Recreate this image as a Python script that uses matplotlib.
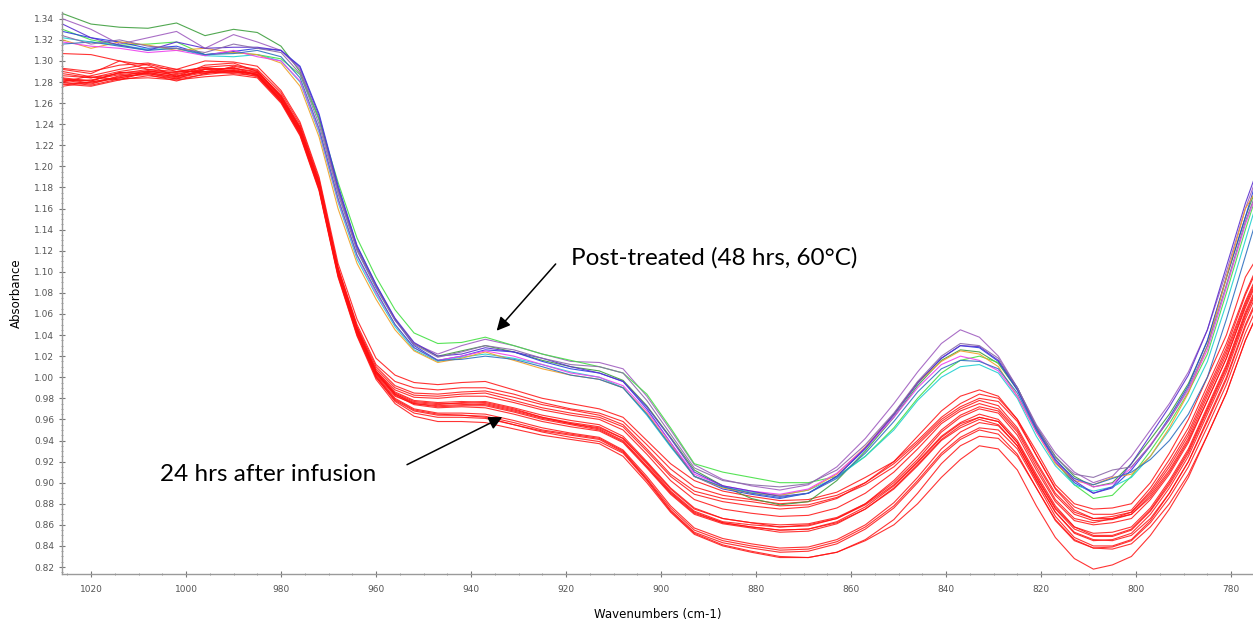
import matplotlib
matplotlib.use("Agg")
import matplotlib.pyplot as plt
from matplotlib.ticker import MultipleLocator, FormatStrFormatter

# Wavenumber grid (cm-1)
wavenumbers = [1026, 1020, 1014, 1008, 1002, 996, 990, 985, 980, 976, 972, 968, 964, 960, 956, 952,
               947, 942, 937, 931, 925, 919, 913, 908, 903, 898, 893, 887, 881, 875, 869, 863, 857,
               851, 846, 841, 837, 833, 829, 825, 821, 817, 813, 809, 805, 801, 797, 793, 789, 785,
               781, 777, 775]

# Post-treated (48 hrs, 60°C) spectra
post_dark_green = [1.345,1.335,1.332,1.331,1.336,1.324,1.330,1.327,1.314,1.290,1.245,1.178,1.122,1.086,1.055,1.032,1.020,1.025,1.030,1.024,1.016,1.010,1.006,0.997,0.973,0.943,0.912,0.897,0.885,0.879,0.882,0.902,0.930,0.962,0.992,1.016,1.026,1.024,1.013,0.988,0.953,0.925,0.906,0.896,0.900,0.918,0.941,0.965,0.994,1.034,1.094,1.152,1.176]
post_purple = [1.340,1.330,1.316,1.322,1.328,1.312,1.325,1.318,1.310,1.292,1.244,1.176,1.121,1.085,1.054,1.032,1.022,1.030,1.036,1.030,1.022,1.015,1.014,1.008,0.982,0.950,0.917,0.903,0.897,0.893,0.898,0.915,0.942,0.975,1.005,1.032,1.045,1.038,1.020,0.990,0.955,0.928,0.910,0.900,0.906,0.925,0.950,0.975,1.005,1.045,1.100,1.160,1.185]
post_light_green = [1.330,1.320,1.315,1.316,1.318,1.306,1.308,1.306,1.302,1.287,1.245,1.185,1.132,1.095,1.064,1.042,1.032,1.033,1.038,1.030,1.022,1.016,1.010,1.004,0.984,0.952,0.918,0.910,0.905,0.900,0.900,0.906,0.925,0.952,0.980,1.004,1.016,1.020,1.014,0.990,0.952,0.920,0.898,0.885,0.888,0.906,0.930,0.956,0.986,1.022,1.080,1.140,1.168]
post_blue = [1.328,1.322,1.318,1.312,1.314,1.306,1.309,1.312,1.310,1.295,1.250,1.182,1.125,1.088,1.055,1.030,1.016,1.020,1.026,1.024,1.015,1.008,1.004,0.996,0.970,0.938,0.906,0.894,0.889,0.885,0.890,0.906,0.932,0.964,0.994,1.018,1.030,1.028,1.015,0.988,0.950,0.920,0.900,0.890,0.895,0.912,0.935,0.962,0.992,1.035,1.095,1.152,1.182]
post_cyan = [1.322,1.318,1.315,1.311,1.312,1.305,1.304,1.306,1.300,1.280,1.232,1.166,1.112,1.078,1.048,1.026,1.015,1.019,1.022,1.018,1.012,1.005,1.000,0.990,0.964,0.934,0.906,0.896,0.891,0.888,0.893,0.905,0.925,0.950,0.978,1.000,1.010,1.012,1.004,0.980,0.944,0.916,0.898,0.892,0.896,0.905,0.925,0.950,0.978,1.015,1.070,1.130,1.160]
post_orange = [1.320,1.312,1.318,1.315,1.310,1.312,1.308,1.306,1.298,1.276,1.228,1.160,1.108,1.074,1.045,1.025,1.014,1.018,1.024,1.016,1.008,1.002,0.998,0.990,0.966,0.936,0.906,0.895,0.890,0.888,0.893,0.908,0.934,0.965,0.995,1.015,1.025,1.022,1.010,0.982,0.948,0.918,0.902,0.898,0.905,0.908,0.925,0.952,0.985,1.030,1.095,1.160,1.175]
post_magenta = [1.318,1.314,1.312,1.308,1.310,1.305,1.310,1.304,1.300,1.281,1.234,1.168,1.115,1.080,1.050,1.028,1.016,1.020,1.025,1.020,1.012,1.004,1.000,0.992,0.968,0.938,0.908,0.897,0.892,0.889,0.894,0.909,0.933,0.962,0.990,1.012,1.020,1.016,1.006,0.982,0.948,0.920,0.904,0.896,0.899,0.914,0.936,0.960,0.988,1.026,1.085,1.145,1.170]
post_indigo = [1.335,1.322,1.315,1.310,1.318,1.312,1.313,1.313,1.310,1.294,1.248,1.180,1.124,1.088,1.056,1.033,1.020,1.022,1.028,1.024,1.018,1.010,1.004,0.996,0.972,0.942,0.910,0.897,0.892,0.887,0.890,0.906,0.933,0.965,0.995,1.018,1.030,1.029,1.016,0.990,0.952,0.922,0.902,0.890,0.896,0.918,0.945,0.972,1.002,1.045,1.105,1.165,1.190]
post_steel = [1.316,1.318,1.314,1.310,1.312,1.306,1.307,1.310,1.304,1.284,1.236,1.170,1.116,1.082,1.050,1.028,1.016,1.017,1.020,1.017,1.010,1.002,0.998,0.990,0.965,0.935,0.906,0.896,0.890,0.886,0.890,0.904,0.928,0.958,0.986,1.008,1.016,1.015,1.008,0.985,0.950,0.922,0.904,0.898,0.904,0.910,0.922,0.940,0.965,1.000,1.055,1.115,1.145]
post_mauve = [1.324,1.316,1.320,1.314,1.312,1.308,1.316,1.312,1.308,1.288,1.240,1.174,1.120,1.085,1.054,1.031,1.019,1.024,1.030,1.026,1.018,1.012,1.010,1.004,0.978,0.946,0.914,0.902,0.898,0.896,0.899,0.912,0.936,0.966,0.996,1.020,1.032,1.030,1.018,0.990,0.954,0.924,0.908,0.905,0.912,0.915,0.935,0.960,0.990,1.030,1.088,1.148,1.172]

post_series = [post_dark_green, post_purple, post_light_green, post_blue, post_cyan,
               post_orange, post_magenta, post_indigo, post_steel, post_mauve]
post_colors = ["#3f9f3f", "#a05fc0", "#44e044", "#2a3fe0", "#20d0d0",
               "#f0a028", "#ee40ee", "#5a2fd0", "#3070c0", "#8a6aa8"]

# 24 hrs after infusion spectra
inf_01 = [1.293,1.290,1.296,1.298,1.292,1.300,1.299,1.295,1.272,1.242,1.190,1.108,1.055,1.018,1.002,0.995,0.993,0.995,0.996,0.988,0.980,0.975,0.970,0.962,0.940,0.918,0.902,0.892,0.887,0.883,0.884,0.891,0.905,0.920,0.940,0.962,0.975,0.984,0.980,0.960,0.930,0.898,0.880,0.875,0.876,0.880,0.900,0.928,0.960,1.000,1.040,1.095,1.110]
inf_02 = [1.292,1.288,1.300,1.296,1.285,1.296,1.298,1.290,1.268,1.238,1.186,1.104,1.050,1.012,0.996,0.990,0.988,0.990,0.990,0.984,0.976,0.970,0.966,0.958,0.936,0.913,0.896,0.888,0.884,0.880,0.882,0.888,0.900,0.918,0.938,0.960,0.972,0.980,0.977,0.958,0.926,0.895,0.877,0.870,0.870,0.874,0.895,0.922,0.952,0.992,1.032,1.080,1.100]
inf_03 = [1.280,1.286,1.292,1.297,1.290,1.294,1.296,1.292,1.270,1.240,1.188,1.104,1.048,1.010,0.992,0.985,0.984,0.986,0.987,0.981,0.974,0.969,0.964,0.955,0.932,0.908,0.892,0.885,0.882,0.878,0.879,0.886,0.898,0.915,0.936,0.958,0.970,0.978,0.973,0.952,0.920,0.890,0.872,0.866,0.868,0.872,0.890,0.915,0.945,0.985,1.025,1.072,1.092]
inf_04 = [1.288,1.284,1.290,1.294,1.292,1.288,1.295,1.291,1.266,1.236,1.184,1.102,1.047,1.008,0.990,0.983,0.982,0.984,0.985,0.978,0.971,0.966,0.962,0.953,0.930,0.906,0.889,0.882,0.878,0.875,0.877,0.885,0.900,0.920,0.944,0.968,0.982,0.988,0.982,0.960,0.926,0.894,0.874,0.866,0.866,0.870,0.888,0.912,0.942,0.982,1.022,1.070,1.090]
inf_05 = [1.307,1.306,1.300,1.292,1.288,1.292,1.293,1.289,1.267,1.237,1.185,1.102,1.046,1.006,0.988,0.981,0.980,0.982,0.982,0.976,0.969,0.964,0.960,0.950,0.927,0.902,0.884,0.875,0.871,0.868,0.869,0.876,0.890,0.910,0.932,0.956,0.968,0.975,0.970,0.950,0.918,0.888,0.870,0.864,0.865,0.870,0.886,0.910,0.940,0.978,1.018,1.066,1.086]
inf_06 = [1.284,1.281,1.289,1.288,1.283,1.292,1.290,1.287,1.264,1.234,1.182,1.099,1.044,1.004,0.984,0.976,0.974,0.976,0.977,0.971,0.964,0.959,0.955,0.944,0.920,0.895,0.876,0.866,0.862,0.860,0.861,0.867,0.880,0.900,0.922,0.948,0.962,0.970,0.966,0.945,0.912,0.882,0.864,0.860,0.862,0.866,0.884,0.908,0.938,0.978,1.018,1.068,1.088]
inf_07 = [1.278,1.280,1.285,1.291,1.286,1.290,1.294,1.286,1.262,1.232,1.180,1.098,1.043,1.003,0.982,0.975,0.973,0.974,0.975,0.969,0.962,0.957,0.953,0.942,0.918,0.892,0.873,0.863,0.860,0.858,0.860,0.866,0.879,0.898,0.920,0.944,0.957,0.965,0.960,0.940,0.908,0.878,0.858,0.850,0.850,0.856,0.874,0.900,0.930,0.970,1.010,1.060,1.080]
inf_08 = [1.290,1.285,1.282,1.290,1.289,1.294,1.290,1.289,1.266,1.236,1.184,1.101,1.046,1.006,0.986,0.978,0.976,0.977,0.976,0.970,0.962,0.956,0.951,0.940,0.916,0.891,0.872,0.862,0.858,0.855,0.856,0.863,0.877,0.897,0.919,0.943,0.956,0.962,0.958,0.938,0.906,0.876,0.858,0.852,0.853,0.858,0.876,0.902,0.932,0.972,1.012,1.062,1.082]
inf_09 = [1.283,1.279,1.284,1.288,1.284,1.289,1.291,1.287,1.263,1.233,1.181,1.099,1.044,1.004,0.983,0.974,0.971,0.972,0.971,0.965,0.958,0.953,0.949,0.938,0.914,0.889,0.870,0.861,0.857,0.853,0.854,0.861,0.875,0.895,0.917,0.941,0.954,0.962,0.958,0.938,0.905,0.875,0.856,0.849,0.849,0.855,0.873,0.898,0.928,0.968,1.008,1.058,1.078]
inf_10 = [1.286,1.284,1.288,1.292,1.290,1.290,1.289,1.288,1.265,1.235,1.183,1.100,1.045,1.005,0.985,0.977,0.975,0.975,0.974,0.968,0.961,0.956,0.952,0.942,0.919,0.894,0.875,0.866,0.862,0.858,0.859,0.866,0.880,0.902,0.925,0.950,0.964,0.972,0.968,0.948,0.915,0.884,0.866,0.862,0.866,0.872,0.892,0.918,0.948,0.988,1.028,1.078,1.098]
inf_11 = [1.281,1.282,1.287,1.289,1.285,1.292,1.293,1.290,1.266,1.236,1.184,1.101,1.046,1.005,0.984,0.975,0.972,0.973,0.973,0.967,0.960,0.955,0.950,0.939,0.915,0.890,0.871,0.862,0.858,0.855,0.856,0.862,0.875,0.894,0.916,0.940,0.952,0.960,0.955,0.935,0.902,0.872,0.853,0.846,0.845,0.850,0.866,0.890,0.920,0.958,0.998,1.048,1.068]
inf_12 = [1.278,1.276,1.282,1.286,1.283,1.287,1.290,1.285,1.261,1.230,1.178,1.096,1.040,1.000,0.978,0.968,0.964,0.964,0.963,0.957,0.950,0.946,0.942,0.930,0.904,0.876,0.855,0.845,0.840,0.836,0.837,0.844,0.858,0.878,0.902,0.928,0.943,0.952,0.950,0.932,0.900,0.868,0.848,0.840,0.840,0.846,0.864,0.890,0.920,0.960,1.000,1.050,1.070]
inf_13 = [1.276,1.280,1.284,1.289,1.285,1.290,1.288,1.286,1.262,1.231,1.179,1.097,1.041,1.000,0.977,0.966,0.962,0.962,0.961,0.955,0.949,0.945,0.941,0.929,0.903,0.874,0.853,0.843,0.838,0.834,0.835,0.842,0.856,0.876,0.900,0.926,0.941,0.950,0.946,0.927,0.895,0.864,0.845,0.838,0.839,0.845,0.862,0.886,0.915,0.953,0.993,1.042,1.062]
inf_14 = [1.282,1.278,1.286,1.287,1.281,1.288,1.291,1.287,1.264,1.233,1.181,1.099,1.043,1.002,0.980,0.970,0.966,0.966,0.965,0.959,0.952,0.947,0.943,0.931,0.906,0.878,0.857,0.847,0.842,0.838,0.839,0.846,0.860,0.881,0.905,0.932,0.948,0.957,0.954,0.935,0.903,0.872,0.852,0.845,0.846,0.852,0.870,0.895,0.925,0.965,1.005,1.055,1.075]
inf_15 = [1.280,1.277,1.283,1.284,1.282,1.285,1.287,1.284,1.260,1.229,1.177,1.095,1.039,0.998,0.975,0.963,0.958,0.958,0.957,0.951,0.945,0.941,0.937,0.925,0.900,0.872,0.851,0.840,0.834,0.829,0.829,0.834,0.846,0.865,0.890,0.918,0.935,0.944,0.942,0.925,0.895,0.865,0.846,0.838,0.837,0.842,0.858,0.880,0.908,0.945,0.985,1.035,1.055]
inf_16 = [1.283,1.281,1.289,1.290,1.287,1.293,1.292,1.287,1.262,1.232,1.180,1.098,1.042,1.001,0.979,0.969,0.965,0.964,0.962,0.955,0.948,0.943,0.939,0.928,0.902,0.873,0.852,0.841,0.835,0.830,0.829,0.834,0.845,0.860,0.880,0.905,0.922,0.935,0.932,0.912,0.878,0.848,0.828,0.818,0.822,0.830,0.850,0.875,0.905,0.945,0.985,1.035,1.055]

infusion_series = [inf_01, inf_02, inf_03, inf_04, inf_05, inf_06, inf_07, inf_08,
                   inf_09, inf_10, inf_11, inf_12, inf_13, inf_14, inf_15, inf_16]

x_label = "Wavenumbers (cm-1)"
y_label = "Absorbance"
label_post = "Post-treated (48 hrs, 60°C)"
label_inf = "24 hrs after infusion"

fig = plt.figure(figsize=(12.53, 6.22), dpi=100)
ax = fig.add_axes([0.0495, 0.0772, 0.9505, 0.9038])

for s in infusion_series:
    ax.plot(wavenumbers, s, color="#ff1010", lw=0.8, alpha=0.85)
for s, c in zip(post_series, post_colors):
    ax.plot(wavenumbers, s, color=c, lw=0.8, alpha=0.9)

ax.set_xlim(1026.1, 775.4)
ax.set_ylim(0.8134, 1.3466)

ax.xaxis.set_major_locator(MultipleLocator(20))
ax.xaxis.set_minor_locator(MultipleLocator(5))
ax.yaxis.set_major_locator(MultipleLocator(0.02))
ax.yaxis.set_minor_locator(MultipleLocator(0.005))
ax.yaxis.set_major_formatter(FormatStrFormatter("%.2f"))
ax.xaxis.set_major_formatter(FormatStrFormatter("%d"))

for side in ["top", "right"]:
    ax.spines[side].set_visible(False)
for side in ["left", "bottom"]:
    ax.spines[side].set_color("#9a9a9a")
    ax.spines[side].set_linewidth(1.0)

ax.tick_params(axis="both", which="major", labelsize=6.5, labelcolor="#555555",
               color="#777777", length=4, width=0.8, direction="inout")
ax.tick_params(axis="both", which="minor", color="#888888", length=2, width=0.6,
               direction="inout")
ax.tick_params(axis="x", which="major", pad=6)

ax.set_xlabel(x_label, fontsize=8.5, labelpad=10)
ax.set_ylabel(y_label, fontsize=8.5, labelpad=8)

ann_font = dict(fontsize=17.5, family="Lato")
ax.annotate("", xy=(935.0, 1.0421), xytext=(921.8, 1.1094),
            arrowprops=dict(arrowstyle="-|>", mutation_scale=20, lw=1.1, color="black"))
ax.annotate("", xy=(932.9, 0.9634), xytext=(954.0, 0.9159),
            arrowprops=dict(arrowstyle="-|>", mutation_scale=20, lw=1.1, color="black"))
ax.text(919.0, 1.1132, label_post, va="center", ha="left", **ann_font)
ax.text(1005.5, 0.908, label_inf, va="center", ha="left", **ann_font)

fig.savefig("out.png", dpi=100)
